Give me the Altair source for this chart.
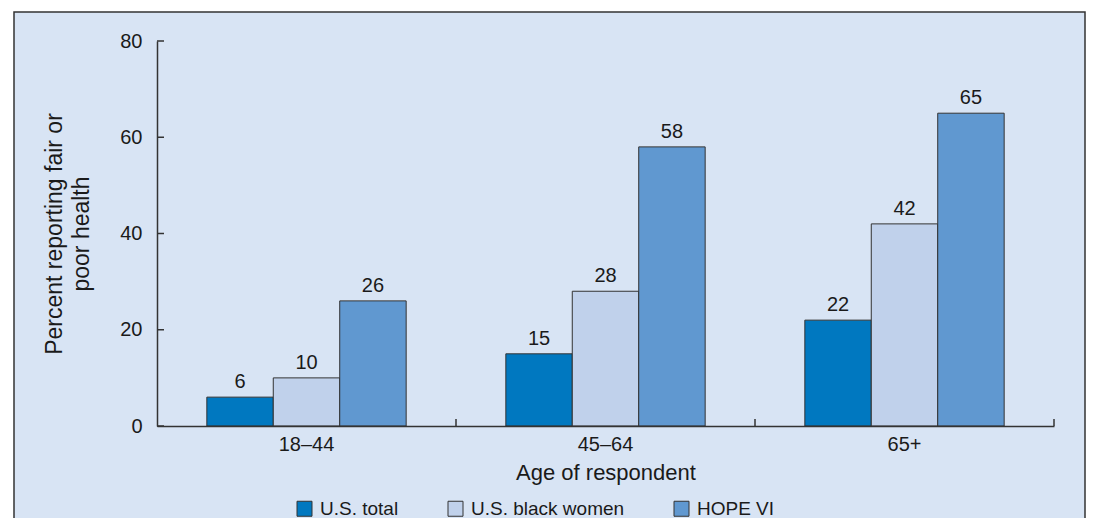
import altair as alt
import pandas as pd

# ---- data ----
ages = ["18–44", "45–64", "65+"]
series = ["U.S. total", "U.S. black women", "HOPE VI"]
us_total = [6, 15, 22]
us_black_women = [10, 28, 42]
hope_vi = [26, 58, 65]
y_ticks = [0, 20, 40, 60, 80]
colors = ["#0078C0", "#C0D1EB", "#6098D0"]

rows = []
for i, a in enumerate(ages):
    for s, vals in zip(series, [us_total, us_black_women, hope_vi]):
        rows.append({"age": a, "series": s, "value": vals[i]})
df = pd.DataFrame(rows)
tick_df = pd.DataFrame({"value": y_ticks})
age_df = pd.DataFrame({"age": ages})
frame_df = pd.DataFrame({"f": [0]})

W, H = 897, 385
FONT = "Liberation Sans"
BG = "#D8E4F4"
INK = "#1a1a1a"
LINE = "#333333"

yscale = alt.Scale(domain=[0, 80], nice=False)
xscale = alt.Scale(paddingInner=0, paddingOuter=0)

x_axis = alt.Axis(title="Age of respondent", labelAngle=0, ticks=False, tickSize=0,
                  domainColor=LINE, domainWidth=1.5, labelFontSize=20,
                  labelFont=FONT, labelColor=INK, labelPadding=8,
                  titleFont=FONT, titleFontSize=22, titleFontWeight="normal",
                  titleColor=INK, titlePadding=8, zindex=1)
y_axis = alt.Axis(values=y_ticks, title=["Percent reporting fair or", "poor health"],
                  ticks=False, tickSize=0, grid=False, domainColor=LINE, domainWidth=1.5,
                  labelFontSize=20, labelFont=FONT, labelColor=INK, labelPadding=15,
                  titleFont=FONT, titleFontSize=23, titleFontWeight="normal",
                  titleColor=INK, titlePadding=26, titleLineHeight=27, zindex=1)

# frame / panel background
frame = alt.Chart(frame_df).mark_rect(fill=BG, stroke=LINE, strokeWidth=1.5).encode(
    x=alt.value(-143), x2=alt.value(928), y=alt.value(-29), y2=alt.value(500)
)

bars = alt.Chart(df).mark_bar(stroke=LINE, strokeWidth=1).encode(
    x=alt.X("age:N", sort=ages, scale=xscale, axis=x_axis),
    xOffset=alt.XOffset("series:N", sort=series,
                        scale=alt.Scale(domain=series, paddingInner=0, paddingOuter=0.75)),
    y=alt.Y("value:Q", scale=yscale, axis=y_axis),
    color=alt.Color("series:N", sort=series,
                    scale=alt.Scale(domain=series, range=colors),
                    legend=alt.Legend(title=None, orient="none", legendX=138, legendY=458,
                                      direction="horizontal", symbolType="square",
                                      symbolSize=225, symbolStrokeColor=LINE,
                                      symbolStrokeWidth=1, labelFontSize=19, labelFont=FONT,
                                      labelColor=INK, columnPadding=47, labelOffset=6,
                                      padding=0)),
)

labels = alt.Chart(df).mark_text(baseline="bottom", dy=-5, fontSize=20, font=FONT, color=INK).encode(
    x=alt.X("age:N", sort=ages),
    xOffset=alt.XOffset("series:N", sort=series),
    y=alt.Y("value:Q"),
    text=alt.Text("value:Q"),
)

ytick_marks = alt.Chart(tick_df).mark_rule(color=LINE, strokeWidth=1.5).encode(
    y=alt.Y("value:Q"),
    x=alt.value(0), x2=alt.value(7),
)

xtick_marks = alt.Chart(age_df).mark_rule(color=LINE, strokeWidth=1.5).encode(
    x=alt.X("age:N", sort=ages, bandPosition=1),
    y=alt.value(H), y2=alt.value(H - 7),
)

chart = alt.layer(frame, bars, labels, ytick_marks, xtick_marks).properties(
    width=W, height=H,
    background="white",
    padding={"left": 5, "top": 3, "right": 0, "bottom": 0},
).configure_view(stroke=None)

chart.save("out.html", embed_options={"renderer": "svg", "actions": False})
